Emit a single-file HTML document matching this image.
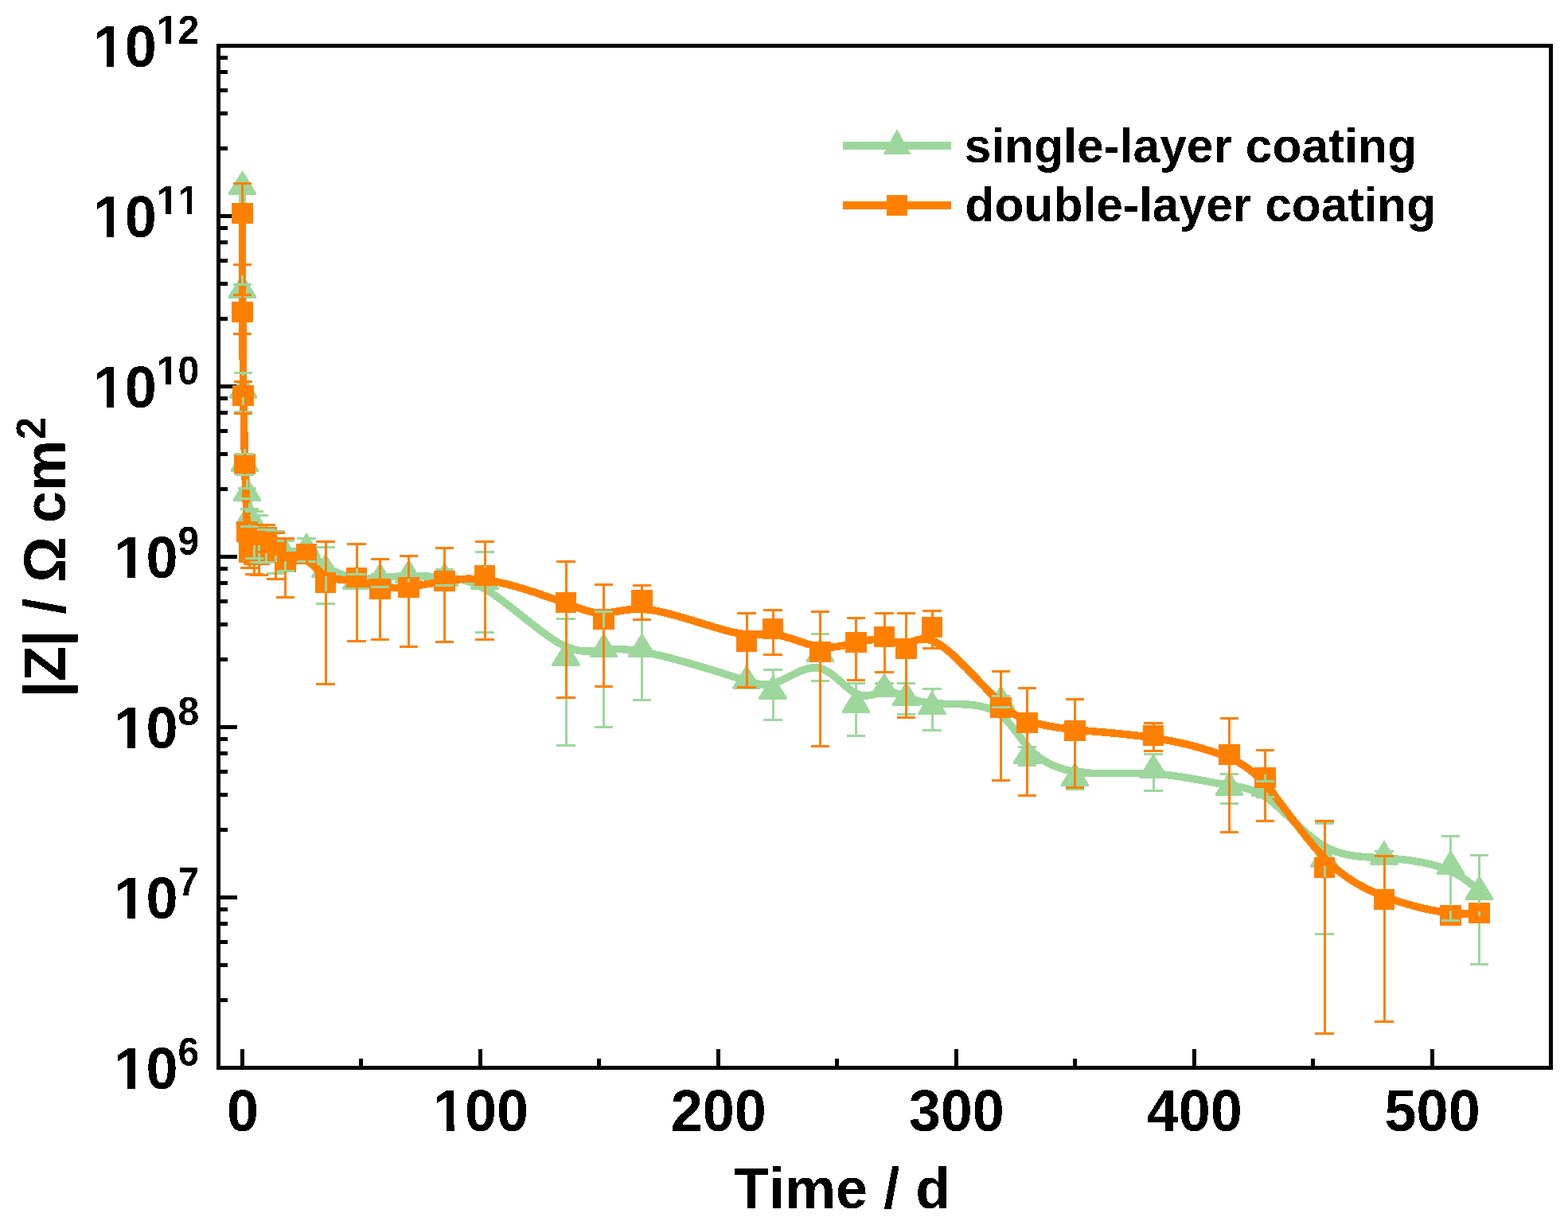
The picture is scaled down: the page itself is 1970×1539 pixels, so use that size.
<!DOCTYPE html>
<html lang="en">
<head>
<meta charset="utf-8">
<title>|Z| vs Time</title>
<style>html,body{margin:0;padding:0;background:#fff}body{width:1970px;height:1539px;overflow:hidden}svg{display:block}</style>
</head>
<body>
<svg width="1970" height="1539" viewBox="0 0 1970 1539">
<rect width="1970" height="1539" fill="#fff"/>
<g shape-rendering="crispEdges" fill="#000">
<rect x="274.5" y="57.5" width="1674" height="1284" fill="none" stroke="#000" stroke-width="5"/>
<rect x="277" y="1254" width="9" height="5" fill="#000"/>
<rect x="277" y="1210" width="9" height="5" fill="#000"/>
<rect x="277" y="1181" width="9" height="5" fill="#000"/>
<rect x="277" y="1158" width="9" height="5" fill="#000"/>
<rect x="277" y="1140" width="9" height="5" fill="#000"/>
<rect x="277" y="1125" width="21" height="5" fill="#000"/>
<rect x="277" y="1040" width="9" height="5" fill="#000"/>
<rect x="277" y="996" width="9" height="5" fill="#000"/>
<rect x="277" y="967" width="9" height="5" fill="#000"/>
<rect x="277" y="944" width="9" height="5" fill="#000"/>
<rect x="277" y="926" width="9" height="5" fill="#000"/>
<rect x="277" y="911" width="21" height="5" fill="#000"/>
<rect x="277" y="826" width="9" height="5" fill="#000"/>
<rect x="277" y="782" width="9" height="5" fill="#000"/>
<rect x="277" y="753" width="9" height="5" fill="#000"/>
<rect x="277" y="730" width="9" height="5" fill="#000"/>
<rect x="277" y="712" width="9" height="5" fill="#000"/>
<rect x="277" y="697" width="21" height="5" fill="#000"/>
<rect x="277" y="612" width="9" height="5" fill="#000"/>
<rect x="277" y="568" width="9" height="5" fill="#000"/>
<rect x="277" y="539" width="9" height="5" fill="#000"/>
<rect x="277" y="516" width="9" height="5" fill="#000"/>
<rect x="277" y="498" width="9" height="5" fill="#000"/>
<rect x="277" y="483" width="21" height="5" fill="#000"/>
<rect x="277" y="398" width="9" height="5" fill="#000"/>
<rect x="277" y="354" width="9" height="5" fill="#000"/>
<rect x="277" y="325" width="9" height="5" fill="#000"/>
<rect x="277" y="302" width="9" height="5" fill="#000"/>
<rect x="277" y="284" width="9" height="5" fill="#000"/>
<rect x="277" y="269" width="21" height="5" fill="#000"/>
<rect x="277" y="184" width="9" height="5" fill="#000"/>
<rect x="277" y="140" width="9" height="5" fill="#000"/>
<rect x="277" y="111" width="9" height="5" fill="#000"/>
<rect x="277" y="88" width="9" height="5" fill="#000"/>
<rect x="277" y="70" width="9" height="5" fill="#000"/>
<rect x="302" y="1318" width="5" height="21" fill="#000"/>
<rect x="451" y="1330" width="5" height="9" fill="#000"/>
<rect x="601" y="1318" width="5" height="21" fill="#000"/>
<rect x="750" y="1330" width="5" height="9" fill="#000"/>
<rect x="900" y="1318" width="5" height="21" fill="#000"/>
<rect x="1049" y="1330" width="5" height="9" fill="#000"/>
<rect x="1199" y="1318" width="5" height="21" fill="#000"/>
<rect x="1348" y="1330" width="5" height="9" fill="#000"/>
<rect x="1498" y="1318" width="5" height="21" fill="#000"/>
<rect x="1647" y="1330" width="5" height="9" fill="#000"/>
<rect x="1797" y="1318" width="5" height="21" fill="#000"/>
</g>
<g shape-rendering="crispEdges">
<path d="M304.5 233.8C304.5 233.8 304.5 233.8 304.5 255.43C304.5 277.07 304.5 320.33 304.67 362.92C304.83 405.5 305.17 447.4 305.67 483.72C306.17 520.03 306.83 550.77 307.67 572.35C308.5 593.93 309.5 606.37 310.5 617.58C311.5 628.8 312.5 638.8 314 646.72C315.5 654.63 317.5 660.47 319.5 664.22C321.5 667.97 323.5 669.63 326 672.33C328.5 675.03 331.5 678.77 335 681.73C338.5 684.7 342.5 686.9 346.5 689.08C350.5 691.27 354.5 693.43 360.92 693.38C367.33 693.33 376.17 691.07 384.58 694.27C393 697.47 401 706.13 411.5 712.88C422 719.63 435 724.47 446.42 726.4C457.83 728.33 467.67 727.37 478.58 726.18C489.5 725 501.5 723.6 515 723.45C528.5 723.3 543.5 724.4 559.42 725.67C575.33 726.93 592.17 728.37 617.58 745.02C643 761.67 677 793.53 701.92 807.7C726.83 821.87 742.67 818.33 758.58 816.57C774.5 814.8 790.5 814.8 820.42 821.47C850.33 828.13 894.17 841.47 921.58 850.22C949 858.97 960 863.13 975.42 857.47C990.83 851.8 1010.67 836.3 1028.08 839.17C1045.5 842.03 1060.5 863.27 1073.92 870.58C1087.33 877.9 1099.17 871.3 1109.67 869.83C1120.17 868.37 1129.33 872.03 1139.33 875.78C1149.33 879.53 1160.17 883.37 1180 884.15C1199.83 884.93 1228.67 882.67 1248.58 892.93C1268.5 903.2 1279.5 926 1295 942.07C1310.5 958.13 1330.5 967.47 1356.92 970.4C1383.33 973.33 1416.17 969.87 1448.5 971.87C1480.83 973.87 1512.67 981.33 1536.08 985.23C1559.5 989.13 1574.5 989.47 1594.42 1004.42C1614.33 1019.37 1639.17 1048.93 1664.08 1063.2C1689 1077.47 1714 1076.43 1740.42 1077.98C1766.83 1079.53 1794.67 1083.67 1814.58 1091C1834.5 1098.33 1846.5 1108.87 1852.5 1114.13C1858.5 1119.4 1858.5 1119.4 1858.5 1119.4" fill="none" stroke="#9dd79c" stroke-width="9.5" stroke-linejoin="round"/>
<polygon points="304.5,214 322.3,242.8 322.3,244.2 321.5,245 287.5,245 286.7,244.2 286.7,242.8" fill="#9dd79c"/>
<polygon points="304.5,343.8 322.3,372.6 322.3,374 321.5,374.8 287.5,374.8 286.7,374 286.7,372.6" fill="#9dd79c"/>
<polygon points="305.5,469.5 323.3,498.3 323.3,499.7 322.5,500.5 288.5,500.5 287.7,499.7 287.7,498.3" fill="#9dd79c"/>
<polygon points="307.5,561.7 325.3,590.5 325.3,591.9 324.5,592.7 290.5,592.7 289.7,591.9 289.7,590.5" fill="#9dd79c"/>
<polygon points="310.5,599 328.3,627.8 328.3,629.2 327.5,630 293.5,630 292.7,629.2 292.7,627.8" fill="#9dd79c"/>
<polygon points="313.5,629 331.3,657.8 331.3,659.2 330.5,660 296.5,660 295.7,659.2 295.7,657.8" fill="#9dd79c"/>
<polygon points="319.5,646.5 337.3,675.3 337.3,676.7 336.5,677.5 302.5,677.5 301.7,676.7 301.7,675.3" fill="#9dd79c"/>
<polygon points="325.5,651.5 343.3,680.3 343.3,681.7 342.5,682.5 308.5,682.5 307.7,681.7 307.7,680.3" fill="#9dd79c"/>
<polygon points="334.5,662.7 352.3,691.5 352.3,692.9 351.5,693.7 317.5,693.7 316.7,692.9 316.7,691.5" fill="#9dd79c"/>
<polygon points="346.5,669.3 364.3,698.1 364.3,699.5 363.5,700.3 329.5,700.3 328.7,699.5 328.7,698.1" fill="#9dd79c"/>
<polygon points="358.5,675.8 376.3,704.6 376.3,706 375.5,706.8 341.5,706.8 340.7,706 340.7,704.6" fill="#9dd79c"/>
<polygon points="385,669 402.8,697.8 402.8,699.2 402,700 368,700 367.2,699.2 367.2,697.8" fill="#9dd79c"/>
<polygon points="409,695 426.8,723.8 426.8,725.2 426,726 392,726 391.2,725.2 391.2,723.8" fill="#9dd79c"/>
<polygon points="448,709.5 465.8,738.3 465.8,739.7 465,740.5 431,740.5 430.2,739.7 430.2,738.3" fill="#9dd79c"/>
<polygon points="477.5,706.6 495.3,735.4 495.3,736.8 494.5,737.6 460.5,737.6 459.7,736.8 459.7,735.4" fill="#9dd79c"/>
<polygon points="513.5,702.4 531.3,731.2 531.3,732.6 530.5,733.4 496.5,733.4 495.7,732.6 495.7,731.2" fill="#9dd79c"/>
<polygon points="558.5,705.7 576.3,734.5 576.3,735.9 575.5,736.7 541.5,736.7 540.7,735.9 540.7,734.5" fill="#9dd79c"/>
<polygon points="609,710 626.8,738.8 626.8,740.2 626,741 592,741 591.2,740.2 591.2,738.8" fill="#9dd79c"/>
<polygon points="711,805.6 728.8,834.4 728.8,835.8 728,836.6 694,836.6 693.2,835.8 693.2,834.4" fill="#9dd79c"/>
<polygon points="758.5,795 776.3,823.8 776.3,825.2 775.5,826 741.5,826 740.7,825.2 740.7,823.8" fill="#9dd79c"/>
<polygon points="806.5,795 824.3,823.8 824.3,825.2 823.5,826 789.5,826 788.7,825.2 788.7,823.8" fill="#9dd79c"/>
<polygon points="938,835 955.8,863.8 955.8,865.2 955,866 921,866 920.2,865.2 920.2,863.8" fill="#9dd79c"/>
<polygon points="971,847.5 988.8,876.3 988.8,877.7 988,878.5 954,878.5 953.2,877.7 953.2,876.3" fill="#9dd79c"/>
<polygon points="1030.5,801 1048.3,829.8 1048.3,831.2 1047.5,832 1013.5,832 1012.7,831.2 1012.7,829.8" fill="#9dd79c"/>
<polygon points="1075.5,864.7 1093.3,893.5 1093.3,894.9 1092.5,895.7 1058.5,895.7 1057.7,894.9 1057.7,893.5" fill="#9dd79c"/>
<polygon points="1111,844.9 1128.8,873.7 1128.8,875.1 1128,875.9 1094,875.9 1093.2,875.1 1093.2,873.7" fill="#9dd79c"/>
<polygon points="1138.5,855.9 1156.3,884.7 1156.3,886.1 1155.5,886.9 1121.5,886.9 1120.7,886.1 1120.7,884.7" fill="#9dd79c"/>
<polygon points="1171,867.4 1188.8,896.2 1188.8,897.6 1188,898.4 1154,898.4 1153.2,897.6 1153.2,896.2" fill="#9dd79c"/>
<polygon points="1257.5,860.6 1275.3,889.4 1275.3,890.8 1274.5,891.6 1240.5,891.6 1239.7,890.8 1239.7,889.4" fill="#9dd79c"/>
<polygon points="1290.5,929 1308.3,957.8 1308.3,959.2 1307.5,960 1273.5,960 1272.7,959.2 1272.7,957.8" fill="#9dd79c"/>
<polygon points="1350.5,957 1368.3,985.8 1368.3,987.2 1367.5,988 1333.5,988 1332.7,987.2 1332.7,985.8" fill="#9dd79c"/>
<polygon points="1449,946.6 1466.8,975.4 1466.8,976.8 1466,977.6 1432,977.6 1431.2,976.8 1431.2,975.4" fill="#9dd79c"/>
<polygon points="1544.5,969 1562.3,997.8 1562.3,999.2 1561.5,1000 1527.5,1000 1526.7,999.2 1526.7,997.8" fill="#9dd79c"/>
<polygon points="1589.5,970 1607.3,998.8 1607.3,1000.2 1606.5,1001 1572.5,1001 1571.7,1000.2 1571.7,998.8" fill="#9dd79c"/>
<polygon points="1664,1058.7 1681.8,1087.5 1681.8,1088.9 1681,1089.7 1647,1089.7 1646.2,1088.9 1646.2,1087.5" fill="#9dd79c"/>
<polygon points="1739,1055.6 1756.8,1084.4 1756.8,1085.8 1756,1086.6 1722,1086.6 1721.2,1085.8 1721.2,1084.4" fill="#9dd79c"/>
<polygon points="1822.5,1068 1840.3,1096.8 1840.3,1098.2 1839.5,1099 1805.5,1099 1804.7,1098.2 1804.7,1096.8" fill="#9dd79c"/>
<polygon points="1858.5,1099.6 1876.3,1128.4 1876.3,1129.8 1875.5,1130.6 1841.5,1130.6 1840.7,1129.8 1840.7,1128.4" fill="#9dd79c"/>
<path d="M304.5 268C304.5 268 304.5 268 304.5 288.67C304.5 309.33 304.5 350.67 304.67 388.83C304.83 427 305.17 462 305.67 493.83C306.17 525.67 306.83 554.33 307.67 582.83C308.5 611.33 309.5 639.67 310.5 658.17C311.5 676.67 312.5 685.33 314 690.08C315.5 694.83 317.5 695.67 319.5 696.08C321.5 696.5 323.5 696.5 326 692.92C328.5 689.33 331.5 682.17 335 681.75C338.5 681.33 342.5 687.67 346.5 692.83C350.5 698 354.5 702 360.92 702.33C367.33 702.67 376.17 699.33 384.58 703.63C393 707.93 401 719.87 411.5 724.83C422 729.8 435 727.8 446.42 729.15C457.83 730.5 467.67 735.2 478.58 737.23C489.5 739.27 501.5 738.63 515 736.98C528.5 735.33 543.5 732.67 559.42 730.13C575.33 727.6 592.17 725.2 617.58 729.7C643 734.2 677 745.6 701.92 754.77C726.83 763.93 742.67 770.87 758.58 770.4C774.5 769.93 790.5 762.07 820.42 766.72C850.33 771.37 894.17 788.53 921.58 794.45C949 800.37 960 795.03 975.42 797.32C990.83 799.6 1010.67 809.5 1028.08 812.35C1045.5 815.2 1060.5 811 1073.92 807.75C1087.33 804.5 1099.17 802.2 1109.67 803.57C1120.17 804.93 1129.33 809.97 1139.33 807.98C1149.33 806 1160.17 797 1180 809.28C1199.83 821.57 1228.67 855.13 1248.58 875.2C1268.5 895.27 1279.5 901.83 1295 906.72C1310.5 911.6 1330.5 914.8 1356.92 917.37C1383.33 919.93 1416.17 921.87 1448.5 926.87C1480.83 931.87 1512.67 939.93 1536.08 948.8C1559.5 957.67 1574.5 967.33 1594.42 991.07C1614.33 1014.8 1639.17 1052.6 1664.08 1078.1C1689 1103.6 1714 1116.8 1740.42 1126.73C1766.83 1136.67 1794.67 1143.33 1814.58 1146.17C1834.5 1149 1846.5 1148 1852.5 1147.5C1858.5 1147 1858.5 1147 1858.5 1147" fill="none" stroke="#ff8000" stroke-width="9.5" stroke-linejoin="round"/>
<rect x="291" y="255" width="27" height="26" rx="1.6" fill="#ff8000"/>
<rect x="291" y="379" width="27" height="26" rx="1.6" fill="#ff8000"/>
<rect x="292" y="484" width="27" height="26" rx="1.6" fill="#ff8000"/>
<rect x="294" y="570" width="27" height="26" rx="1.6" fill="#ff8000"/>
<rect x="297" y="655" width="27" height="26" rx="1.6" fill="#ff8000"/>
<rect x="300" y="681" width="27" height="26" rx="1.6" fill="#ff8000"/>
<rect x="306" y="684" width="27" height="26" rx="1.6" fill="#ff8000"/>
<rect x="312" y="684" width="27" height="26" rx="1.6" fill="#ff8000"/>
<rect x="321" y="662" width="27" height="26" rx="1.6" fill="#ff8000"/>
<rect x="333" y="681" width="27" height="26" rx="1.6" fill="#ff8000"/>
<rect x="345" y="693" width="27" height="26" rx="1.6" fill="#ff8000"/>
<rect x="372" y="683" width="26" height="26" rx="1.6" fill="#ff8000"/>
<rect x="396" y="719" width="26" height="26" rx="1.6" fill="#ff8000"/>
<rect x="435" y="713" width="26" height="26" rx="1.6" fill="#ff8000"/>
<rect x="464" y="727" width="27" height="26" rx="1.6" fill="#ff8000"/>
<rect x="500" y="725" width="27" height="26" rx="1.6" fill="#ff8000"/>
<rect x="545" y="717" width="27" height="26" rx="1.6" fill="#ff8000"/>
<rect x="596" y="710" width="26" height="26" rx="1.6" fill="#ff8000"/>
<rect x="698" y="744" width="26" height="26" rx="1.6" fill="#ff8000"/>
<rect x="745" y="765" width="27" height="26" rx="1.6" fill="#ff8000"/>
<rect x="793" y="741" width="27" height="26" rx="1.6" fill="#ff8000"/>
<rect x="925" y="793" width="26" height="26" rx="1.6" fill="#ff8000"/>
<rect x="958" y="777" width="26" height="26" rx="1.6" fill="#ff8000"/>
<rect x="1017" y="806" width="27" height="26" rx="1.6" fill="#ff8000"/>
<rect x="1062" y="794" width="27" height="26" rx="1.6" fill="#ff8000"/>
<rect x="1098" y="787" width="26" height="26" rx="1.6" fill="#ff8000"/>
<rect x="1125" y="802" width="27" height="26" rx="1.6" fill="#ff8000"/>
<rect x="1158" y="775" width="26" height="26" rx="1.6" fill="#ff8000"/>
<rect x="1244" y="876" width="27" height="26" rx="1.6" fill="#ff8000"/>
<rect x="1277" y="895" width="27" height="26" rx="1.6" fill="#ff8000"/>
<rect x="1337" y="905" width="27" height="26" rx="1.6" fill="#ff8000"/>
<rect x="1436" y="911" width="26" height="26" rx="1.6" fill="#ff8000"/>
<rect x="1531" y="935" width="27" height="26" rx="1.6" fill="#ff8000"/>
<rect x="1576" y="964" width="27" height="26" rx="1.6" fill="#ff8000"/>
<rect x="1651" y="1077" width="26" height="26" rx="1.6" fill="#ff8000"/>
<rect x="1726" y="1117" width="26" height="26" rx="1.6" fill="#ff8000"/>
<rect x="1809" y="1137" width="27" height="26" rx="1.6" fill="#ff8000"/>
<rect x="1845" y="1134" width="27" height="26" rx="1.6" fill="#ff8000"/>
<rect x="293" y="230" width="23" height="3" fill="#9dd79c"/><rect x="293" y="238" width="23" height="3" fill="#9dd79c"/><rect x="303" y="217" width="3" height="14" fill="#9dd79c"/><rect x="303" y="240" width="3" height="3" fill="#9dd79c"/>
<rect x="293" y="356" width="23" height="3" fill="#9dd79c"/><rect x="293" y="371" width="23" height="3" fill="#9dd79c"/><rect x="303" y="346" width="3" height="12" fill="#9dd79c"/><rect x="303" y="372" width="3" height="1" fill="#9dd79c"/>
<rect x="294" y="467" width="23" height="3" fill="#9dd79c"/><rect x="294" y="516" width="23" height="3" fill="#9dd79c"/><rect x="304" y="468" width="3" height="4" fill="#9dd79c"/><rect x="304" y="499" width="3" height="19" fill="#9dd79c"/>
<rect x="296" y="569" width="23" height="3" fill="#9dd79c"/><rect x="296" y="595" width="23" height="3" fill="#9dd79c"/><rect x="306" y="564" width="3" height="7" fill="#9dd79c"/><rect x="306" y="591" width="3" height="6" fill="#9dd79c"/>
<rect x="299" y="612" width="23" height="3" fill="#9dd79c"/><rect x="299" y="625" width="23" height="3" fill="#9dd79c"/><rect x="309" y="602" width="3" height="11" fill="#9dd79c"/><rect x="309" y="626" width="3" height="2" fill="#9dd79c"/>
<rect x="302" y="638" width="23" height="3" fill="#9dd79c"/><rect x="302" y="660" width="23" height="3" fill="#9dd79c"/><rect x="312" y="632" width="3" height="8" fill="#9dd79c"/><rect x="312" y="658" width="3" height="4" fill="#9dd79c"/>
<rect x="308" y="641" width="23" height="3" fill="#9dd79c"/><rect x="308" y="700" width="23" height="3" fill="#9dd79c"/><rect x="318" y="643" width="3" height="6" fill="#9dd79c"/><rect x="318" y="676" width="3" height="25" fill="#9dd79c"/>
<rect x="314" y="646" width="23" height="3" fill="#9dd79c"/><rect x="314" y="705" width="23" height="3" fill="#9dd79c"/><rect x="324" y="648" width="3" height="6" fill="#9dd79c"/><rect x="324" y="681" width="3" height="25" fill="#9dd79c"/>
<rect x="323" y="664" width="23" height="3" fill="#9dd79c"/><rect x="323" y="705" width="23" height="3" fill="#9dd79c"/><rect x="333" y="665" width="3" height="1" fill="#9dd79c"/><rect x="333" y="692" width="3" height="14" fill="#9dd79c"/>
<rect x="335" y="666" width="23" height="3" fill="#9dd79c"/><rect x="335" y="719" width="23" height="3" fill="#9dd79c"/><rect x="345" y="667" width="3" height="5" fill="#9dd79c"/><rect x="345" y="698" width="3" height="23" fill="#9dd79c"/>
<rect x="347" y="678" width="23" height="3" fill="#9dd79c"/><rect x="347" y="716" width="23" height="3" fill="#9dd79c"/><rect x="357" y="678" width="3" height="2" fill="#9dd79c"/><rect x="357" y="705" width="3" height="12" fill="#9dd79c"/>
<rect x="373" y="675" width="24" height="3" fill="#9dd79c"/><rect x="373" y="704" width="24" height="3" fill="#9dd79c"/><rect x="384" y="672" width="3" height="5" fill="#9dd79c"/><rect x="384" y="698" width="3" height="7" fill="#9dd79c"/>
<rect x="397" y="686" width="24" height="3" fill="#9dd79c"/><rect x="397" y="757" width="24" height="3" fill="#9dd79c"/><rect x="408" y="688" width="3" height="10" fill="#9dd79c"/><rect x="408" y="724" width="3" height="34" fill="#9dd79c"/>
<rect x="436" y="720" width="24" height="3" fill="#9dd79c"/><rect x="436" y="738" width="24" height="3" fill="#9dd79c"/><rect x="447" y="712" width="3" height="10" fill="#9dd79c"/><rect x="447" y="739" width="3" height="1" fill="#9dd79c"/>
<rect x="466" y="720" width="23" height="3" fill="#9dd79c"/><rect x="466" y="736" width="23" height="3" fill="#9dd79c"/><rect x="476" y="709" width="3" height="12" fill="#9dd79c"/><rect x="476" y="736" width="3" height="1" fill="#9dd79c"/>
<rect x="502" y="722" width="23" height="3" fill="#9dd79c"/><rect x="502" y="722" width="23" height="3" fill="#9dd79c"/><rect x="512" y="705" width="3" height="18" fill="#9dd79c"/><rect x="512" y="723" width="3" height="8" fill="#9dd79c"/>
<rect x="547" y="714" width="23" height="3" fill="#9dd79c"/><rect x="547" y="734" width="23" height="3" fill="#9dd79c"/><rect x="557" y="708" width="3" height="8" fill="#9dd79c"/><rect x="557" y="735" width="3" height="1" fill="#9dd79c"/>
<rect x="597" y="692" width="24" height="3" fill="#9dd79c"/><rect x="597" y="793" width="24" height="3" fill="#9dd79c"/><rect x="608" y="694" width="3" height="19" fill="#9dd79c"/><rect x="608" y="739" width="3" height="55" fill="#9dd79c"/>
<rect x="699" y="776" width="24" height="3" fill="#9dd79c"/><rect x="699" y="935" width="24" height="3" fill="#9dd79c"/><rect x="710" y="778" width="3" height="30" fill="#9dd79c"/><rect x="710" y="835" width="3" height="102" fill="#9dd79c"/>
<rect x="747" y="767" width="23" height="3" fill="#9dd79c"/><rect x="747" y="912" width="23" height="3" fill="#9dd79c"/><rect x="757" y="768" width="3" height="30" fill="#9dd79c"/><rect x="757" y="824" width="3" height="90" fill="#9dd79c"/>
<rect x="795" y="777" width="23" height="3" fill="#9dd79c"/><rect x="795" y="878" width="23" height="3" fill="#9dd79c"/><rect x="805" y="779" width="3" height="19" fill="#9dd79c"/><rect x="805" y="824" width="3" height="56" fill="#9dd79c"/>
<rect x="926" y="852" width="24" height="3" fill="#9dd79c"/><rect x="926" y="857" width="24" height="3" fill="#9dd79c"/><rect x="937" y="838" width="3" height="16" fill="#9dd79c"/><rect x="937" y="859" width="3" height="5" fill="#9dd79c"/>
<rect x="959" y="840" width="24" height="3" fill="#9dd79c"/><rect x="959" y="903" width="24" height="3" fill="#9dd79c"/><rect x="970" y="842" width="3" height="8" fill="#9dd79c"/><rect x="970" y="877" width="3" height="27" fill="#9dd79c"/>
<rect x="1019" y="795" width="23" height="3" fill="#9dd79c"/><rect x="1019" y="854" width="23" height="3" fill="#9dd79c"/><rect x="1029" y="797" width="3" height="7" fill="#9dd79c"/><rect x="1029" y="830" width="3" height="26" fill="#9dd79c"/>
<rect x="1064" y="857" width="23" height="3" fill="#9dd79c"/><rect x="1064" y="923" width="23" height="3" fill="#9dd79c"/><rect x="1074" y="859" width="3" height="8" fill="#9dd79c"/><rect x="1074" y="894" width="3" height="31" fill="#9dd79c"/>
<rect x="1099" y="857" width="24" height="3" fill="#9dd79c"/><rect x="1099" y="872" width="24" height="3" fill="#9dd79c"/><rect x="1110" y="847" width="3" height="12" fill="#9dd79c"/><rect x="1110" y="873" width="3" height="1" fill="#9dd79c"/>
<rect x="1127" y="857" width="23" height="3" fill="#9dd79c"/><rect x="1127" y="896" width="23" height="3" fill="#9dd79c"/><rect x="1137" y="858" width="3" height="1" fill="#9dd79c"/><rect x="1137" y="885" width="3" height="13" fill="#9dd79c"/>
<rect x="1159" y="864" width="24" height="3" fill="#9dd79c"/><rect x="1159" y="916" width="24" height="3" fill="#9dd79c"/><rect x="1170" y="866" width="3" height="4" fill="#9dd79c"/><rect x="1170" y="896" width="3" height="22" fill="#9dd79c"/>
<rect x="1246" y="873" width="23" height="3" fill="#9dd79c"/><rect x="1246" y="887" width="23" height="3" fill="#9dd79c"/><rect x="1256" y="863" width="3" height="12" fill="#9dd79c"/><rect x="1256" y="889" width="3" height="1" fill="#9dd79c"/>
<rect x="1279" y="937" width="23" height="3" fill="#9dd79c"/><rect x="1279" y="960" width="23" height="3" fill="#9dd79c"/><rect x="1289" y="932" width="3" height="7" fill="#9dd79c"/><rect x="1289" y="958" width="3" height="3" fill="#9dd79c"/>
<rect x="1339" y="965" width="23" height="3" fill="#9dd79c"/><rect x="1339" y="990" width="23" height="3" fill="#9dd79c"/><rect x="1349" y="960" width="3" height="7" fill="#9dd79c"/><rect x="1349" y="986" width="3" height="5" fill="#9dd79c"/>
<rect x="1437" y="946" width="24" height="3" fill="#9dd79c"/><rect x="1437" y="992" width="24" height="3" fill="#9dd79c"/><rect x="1448" y="947" width="3" height="2" fill="#9dd79c"/><rect x="1448" y="976" width="3" height="18" fill="#9dd79c"/>
<rect x="1533" y="971" width="23" height="3" fill="#9dd79c"/><rect x="1533" y="1008" width="23" height="3" fill="#9dd79c"/><rect x="1543" y="972" width="3" height="1" fill="#9dd79c"/><rect x="1543" y="998" width="3" height="11" fill="#9dd79c"/>
<rect x="1578" y="980" width="23" height="3" fill="#9dd79c"/><rect x="1578" y="1000" width="23" height="3" fill="#9dd79c"/><rect x="1588" y="973" width="3" height="8" fill="#9dd79c"/><rect x="1588" y="999" width="3" height="2" fill="#9dd79c"/>
<rect x="1652" y="1033" width="24" height="3" fill="#9dd79c"/><rect x="1652" y="1172" width="24" height="3" fill="#9dd79c"/><rect x="1663" y="1034" width="3" height="27" fill="#9dd79c"/><rect x="1663" y="1088" width="3" height="86" fill="#9dd79c"/>
<rect x="1727" y="1068" width="24" height="3" fill="#9dd79c"/><rect x="1727" y="1083" width="24" height="3" fill="#9dd79c"/><rect x="1738" y="1058" width="3" height="12" fill="#9dd79c"/><rect x="1738" y="1084" width="3" height="1" fill="#9dd79c"/>
<rect x="1811" y="1049" width="23" height="3" fill="#9dd79c"/><rect x="1811" y="1155" width="23" height="3" fill="#9dd79c"/><rect x="1821" y="1051" width="3" height="20" fill="#9dd79c"/><rect x="1821" y="1097" width="3" height="59" fill="#9dd79c"/>
<rect x="1847" y="1073" width="23" height="3" fill="#9dd79c"/><rect x="1847" y="1210" width="23" height="3" fill="#9dd79c"/><rect x="1857" y="1075" width="3" height="27" fill="#9dd79c"/><rect x="1857" y="1129" width="3" height="83" fill="#9dd79c"/>
<rect x="293" y="229" width="23" height="3" fill="#ff8000"/><rect x="293" y="331" width="23" height="3" fill="#ff8000"/><rect x="303" y="231" width="3" height="26" fill="#ff8000"/><rect x="303" y="280" width="3" height="53" fill="#ff8000"/>
<rect x="293" y="369" width="23" height="3" fill="#ff8000"/><rect x="293" y="418" width="23" height="3" fill="#ff8000"/><rect x="303" y="370" width="3" height="11" fill="#ff8000"/><rect x="303" y="404" width="3" height="16" fill="#ff8000"/>
<rect x="294" y="478" width="23" height="3" fill="#ff8000"/><rect x="294" y="518" width="23" height="3" fill="#ff8000"/><rect x="304" y="479" width="3" height="7" fill="#ff8000"/><rect x="304" y="509" width="3" height="10" fill="#ff8000"/>
<rect x="306" y="570" width="3" height="26" fill="#ff8000"/>
<rect x="299" y="656" width="23" height="3" fill="#ff8000"/><rect x="299" y="679" width="23" height="3" fill="#ff8000"/><rect x="309" y="657" width="3" height="1" fill="#ff8000"/><rect x="309" y="680" width="3" height="1" fill="#ff8000"/>
<rect x="302" y="677" width="23" height="3" fill="#ff8000"/><rect x="302" y="712" width="23" height="3" fill="#ff8000"/><rect x="312" y="678" width="3" height="5" fill="#ff8000"/><rect x="312" y="706" width="3" height="8" fill="#ff8000"/>
<rect x="308" y="675" width="23" height="3" fill="#ff8000"/><rect x="308" y="720" width="23" height="3" fill="#ff8000"/><rect x="318" y="677" width="3" height="8" fill="#ff8000"/><rect x="318" y="708" width="3" height="14" fill="#ff8000"/>
<rect x="314" y="675" width="23" height="3" fill="#ff8000"/><rect x="314" y="721" width="23" height="3" fill="#ff8000"/><rect x="324" y="677" width="3" height="8" fill="#ff8000"/><rect x="324" y="708" width="3" height="15" fill="#ff8000"/>
<rect x="323" y="658" width="23" height="3" fill="#ff8000"/><rect x="323" y="692" width="23" height="3" fill="#ff8000"/><rect x="333" y="660" width="3" height="4" fill="#ff8000"/><rect x="333" y="687" width="3" height="7" fill="#ff8000"/>
<rect x="335" y="668" width="23" height="3" fill="#ff8000"/><rect x="335" y="726" width="23" height="3" fill="#ff8000"/><rect x="345" y="670" width="3" height="13" fill="#ff8000"/><rect x="345" y="706" width="3" height="21" fill="#ff8000"/>
<rect x="347" y="675" width="23" height="3" fill="#ff8000"/><rect x="347" y="749" width="23" height="3" fill="#ff8000"/><rect x="357" y="677" width="3" height="18" fill="#ff8000"/><rect x="357" y="718" width="3" height="32" fill="#ff8000"/>
<rect x="373" y="695" width="24" height="3" fill="#ff8000"/><rect x="373" y="695" width="24" height="3" fill="#ff8000"/><rect x="384" y="685" width="3" height="11" fill="#ff8000"/><rect x="384" y="696" width="3" height="12" fill="#ff8000"/>
<rect x="397" y="679" width="24" height="3" fill="#ff8000"/><rect x="397" y="858" width="24" height="3" fill="#ff8000"/><rect x="408" y="681" width="3" height="39" fill="#ff8000"/><rect x="408" y="743" width="3" height="116" fill="#ff8000"/>
<rect x="436" y="682" width="24" height="3" fill="#ff8000"/><rect x="436" y="804" width="24" height="3" fill="#ff8000"/><rect x="447" y="684" width="3" height="30" fill="#ff8000"/><rect x="447" y="737" width="3" height="68" fill="#ff8000"/>
<rect x="466" y="701" width="23" height="3" fill="#ff8000"/><rect x="466" y="802" width="23" height="3" fill="#ff8000"/><rect x="476" y="703" width="3" height="25" fill="#ff8000"/><rect x="476" y="751" width="3" height="53" fill="#ff8000"/>
<rect x="502" y="697" width="23" height="3" fill="#ff8000"/><rect x="502" y="811" width="23" height="3" fill="#ff8000"/><rect x="512" y="698" width="3" height="29" fill="#ff8000"/><rect x="512" y="750" width="3" height="62" fill="#ff8000"/>
<rect x="547" y="687" width="23" height="3" fill="#ff8000"/><rect x="547" y="805" width="23" height="3" fill="#ff8000"/><rect x="557" y="689" width="3" height="30" fill="#ff8000"/><rect x="557" y="742" width="3" height="64" fill="#ff8000"/>
<rect x="597" y="679" width="24" height="3" fill="#ff8000"/><rect x="597" y="802" width="24" height="3" fill="#ff8000"/><rect x="608" y="681" width="3" height="30" fill="#ff8000"/><rect x="608" y="734" width="3" height="69" fill="#ff8000"/>
<rect x="699" y="704" width="24" height="3" fill="#ff8000"/><rect x="699" y="875" width="24" height="3" fill="#ff8000"/><rect x="710" y="706" width="3" height="40" fill="#ff8000"/><rect x="710" y="769" width="3" height="108" fill="#ff8000"/>
<rect x="747" y="733" width="23" height="3" fill="#ff8000"/><rect x="747" y="861" width="23" height="3" fill="#ff8000"/><rect x="757" y="734" width="3" height="32" fill="#ff8000"/><rect x="757" y="789" width="3" height="74" fill="#ff8000"/>
<rect x="795" y="734" width="23" height="3" fill="#ff8000"/><rect x="795" y="777" width="23" height="3" fill="#ff8000"/><rect x="805" y="735" width="3" height="8" fill="#ff8000"/><rect x="805" y="766" width="3" height="12" fill="#ff8000"/>
<rect x="926" y="769" width="24" height="3" fill="#ff8000"/><rect x="926" y="862" width="24" height="3" fill="#ff8000"/><rect x="937" y="771" width="3" height="23" fill="#ff8000"/><rect x="937" y="817" width="3" height="47" fill="#ff8000"/>
<rect x="959" y="765" width="24" height="3" fill="#ff8000"/><rect x="959" y="821" width="24" height="3" fill="#ff8000"/><rect x="970" y="766" width="3" height="12" fill="#ff8000"/><rect x="970" y="801" width="3" height="22" fill="#ff8000"/>
<rect x="1019" y="767" width="23" height="3" fill="#ff8000"/><rect x="1019" y="936" width="23" height="3" fill="#ff8000"/><rect x="1029" y="769" width="3" height="39" fill="#ff8000"/><rect x="1029" y="831" width="3" height="106" fill="#ff8000"/>
<rect x="1064" y="775" width="23" height="3" fill="#ff8000"/><rect x="1064" y="853" width="23" height="3" fill="#ff8000"/><rect x="1074" y="776" width="3" height="19" fill="#ff8000"/><rect x="1074" y="818" width="3" height="36" fill="#ff8000"/>
<rect x="1099" y="769" width="24" height="3" fill="#ff8000"/><rect x="1099" y="843" width="24" height="3" fill="#ff8000"/><rect x="1110" y="770" width="3" height="18" fill="#ff8000"/><rect x="1110" y="811" width="3" height="34" fill="#ff8000"/>
<rect x="1127" y="769" width="23" height="3" fill="#ff8000"/><rect x="1127" y="900" width="23" height="3" fill="#ff8000"/><rect x="1137" y="771" width="3" height="33" fill="#ff8000"/><rect x="1137" y="827" width="3" height="74" fill="#ff8000"/>
<rect x="1159" y="766" width="24" height="3" fill="#ff8000"/><rect x="1159" y="813" width="24" height="3" fill="#ff8000"/><rect x="1170" y="767" width="3" height="10" fill="#ff8000"/><rect x="1170" y="800" width="3" height="14" fill="#ff8000"/>
<rect x="1246" y="842" width="23" height="3" fill="#ff8000"/><rect x="1246" y="979" width="23" height="3" fill="#ff8000"/><rect x="1256" y="843" width="3" height="34" fill="#ff8000"/><rect x="1256" y="900" width="3" height="80" fill="#ff8000"/>
<rect x="1279" y="863" width="23" height="3" fill="#ff8000"/><rect x="1279" y="998" width="23" height="3" fill="#ff8000"/><rect x="1289" y="864" width="3" height="33" fill="#ff8000"/><rect x="1289" y="920" width="3" height="79" fill="#ff8000"/>
<rect x="1339" y="877" width="23" height="3" fill="#ff8000"/><rect x="1339" y="988" width="23" height="3" fill="#ff8000"/><rect x="1349" y="878" width="3" height="29" fill="#ff8000"/><rect x="1349" y="930" width="3" height="60" fill="#ff8000"/>
<rect x="1437" y="907" width="24" height="3" fill="#ff8000"/><rect x="1437" y="942" width="24" height="3" fill="#ff8000"/><rect x="1448" y="908" width="3" height="4" fill="#ff8000"/><rect x="1448" y="935" width="3" height="8" fill="#ff8000"/>
<rect x="1533" y="901" width="23" height="3" fill="#ff8000"/><rect x="1533" y="1044" width="23" height="3" fill="#ff8000"/><rect x="1543" y="903" width="3" height="34" fill="#ff8000"/><rect x="1543" y="960" width="3" height="85" fill="#ff8000"/>
<rect x="1578" y="941" width="23" height="3" fill="#ff8000"/><rect x="1578" y="1030" width="23" height="3" fill="#ff8000"/><rect x="1588" y="943" width="3" height="23" fill="#ff8000"/><rect x="1588" y="989" width="3" height="43" fill="#ff8000"/>
<rect x="1652" y="1030" width="24" height="3" fill="#ff8000"/><rect x="1652" y="1297" width="24" height="3" fill="#ff8000"/><rect x="1663" y="1032" width="3" height="47" fill="#ff8000"/><rect x="1663" y="1102" width="3" height="197" fill="#ff8000"/>
<rect x="1727" y="1074" width="24" height="3" fill="#ff8000"/><rect x="1727" y="1282" width="24" height="3" fill="#ff8000"/><rect x="1738" y="1075" width="3" height="44" fill="#ff8000"/><rect x="1738" y="1142" width="3" height="141" fill="#ff8000"/>
<rect x="1821" y="1138" width="3" height="6" fill="#ff8000"/>
<rect x="1857" y="1135" width="3" height="10" fill="#ff8000"/>
<rect x="1857" y="1151" width="3" height="9" fill="#ff8000"/>
</g>
<defs><filter id="hard" x="-5%" y="-5%" width="110%" height="110%" filterUnits="objectBoundingBox" color-interpolation-filters="sRGB"><feComponentTransfer><feFuncA type="discrete" tableValues="0 1"/></feComponentTransfer></filter></defs>
<g font-family="'Liberation Sans', Arial, Helvetica, sans-serif" font-weight="bold" fill="#000" filter="url(#hard)" style="font-kerning:none;font-variant-ligatures:none" font-kerning="none">
<text transform="translate(143.42 1367.8) scale(1 1.04)" font-size="72">10<tspan font-size="48" dy="-27.7">6</tspan></text>
<text transform="translate(143.42 1153.8) scale(1 1.04)" font-size="72">10<tspan font-size="48" dy="-27.7">7</tspan></text>
<text transform="translate(143.42 939.8) scale(1 1.04)" font-size="72">10<tspan font-size="48" dy="-27.7">8</tspan></text>
<text transform="translate(143.42 725.8) scale(1 1.04)" font-size="72">10<tspan font-size="48" dy="-27.7">9</tspan></text>
<text transform="translate(116.72 511.8) scale(1 1.04)" font-size="72">10<tspan font-size="48" dy="-27.7">10</tspan></text>
<text transform="translate(116.72 297.8) scale(1 1.04)" font-size="72">10<tspan font-size="48" dy="-27.7">11</tspan></text>
<text transform="translate(116.72 83.8) scale(1 1.04)" font-size="72">10<tspan font-size="48" dy="-27.7">12</tspan></text>
<text transform="translate(284.97 1421) scale(1 1.04)" font-size="72" text-anchor="start">0</text>
<text transform="translate(543.86 1421) scale(1 1.04)" font-size="72" text-anchor="start">100</text>
<text transform="translate(842.79 1421) scale(1 1.04)" font-size="72" text-anchor="start">200</text>
<text transform="translate(1141.71 1421) scale(1 1.04)" font-size="72" text-anchor="start">300</text>
<text transform="translate(1440.64 1421) scale(1 1.04)" font-size="72" text-anchor="start">400</text>
<text transform="translate(1739.57 1421) scale(1 1.04)" font-size="72" text-anchor="start">500</text>
<text transform="translate(922.1 1518) scale(1 1.01)" font-size="72" text-anchor="start">Time / d</text>
<text transform="translate(82.3 876) rotate(-90) scale(1 1.02)" font-size="72">|Z| / Ω <tspan dx="-3">cm</tspan><tspan font-size="50.4" dy="-25.3" dx="1">2</tspan></text>
<text transform="translate(1211.8 204.3) scale(1 1.0)" font-size="60.5" text-anchor="start">single-layer coating</text>
<text transform="translate(1212.6 278.2) scale(1 1.0)" font-size="60.5" text-anchor="start">double-layer coating</text>
</g>
<g shape-rendering="crispEdges"><rect x="146" y="1360" width="14" height="9" fill="#fff"/><rect x="170" y="1360" width="13" height="9" fill="#fff"/><rect x="146" y="1146" width="14" height="9" fill="#fff"/><rect x="170" y="1146" width="13" height="9" fill="#fff"/><rect x="146" y="932" width="14" height="9" fill="#fff"/><rect x="170" y="932" width="13" height="9" fill="#fff"/><rect x="146" y="718" width="14" height="9" fill="#fff"/><rect x="170" y="718" width="13" height="9" fill="#fff"/><rect x="120" y="504" width="14" height="9" fill="#fff"/><rect x="143" y="504" width="13" height="9" fill="#fff"/><rect x="198" y="478" width="10" height="6" fill="#fff"/><rect x="215" y="478" width="9" height="6" fill="#fff"/><rect x="120" y="290" width="14" height="9" fill="#fff"/><rect x="143" y="290" width="13" height="9" fill="#fff"/><rect x="198" y="264" width="10" height="6" fill="#fff"/><rect x="215" y="264" width="9" height="6" fill="#fff"/><rect x="225" y="264" width="10" height="6" fill="#fff"/><rect x="241" y="264" width="9" height="6" fill="#fff"/><rect x="120" y="76" width="14" height="9" fill="#fff"/><rect x="143" y="76" width="13" height="9" fill="#fff"/><rect x="198" y="50" width="10" height="6" fill="#fff"/><rect x="215" y="50" width="9" height="6" fill="#fff"/><rect x="547" y="1413" width="14" height="9" fill="#fff"/><rect x="571" y="1413" width="12" height="9" fill="#fff"/></g>
<g shape-rendering="crispEdges">
<rect x="1059" y="178" width="136" height="10" fill="#9dd79c"/>
<polygon points="1127,162 1144.5,194 1109.5,194" fill="#9dd79c"/>
<rect x="1059" y="253" width="136" height="10" fill="#ff8000"/>
<rect x="1114" y="245" width="26" height="26" fill="#ff8000"/>
</g>
</svg>
</body>
</html>
